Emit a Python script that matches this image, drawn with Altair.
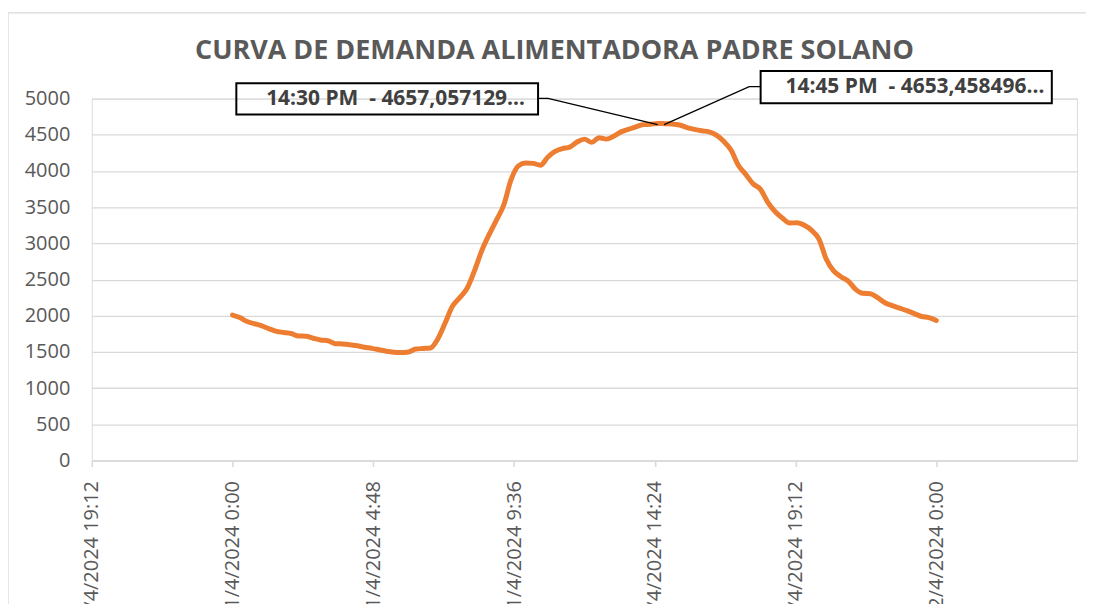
import altair as alt
import pandas as pd

TITLE = "CURVA DE DEMANDA ALIMENTADORA PADRE SOLANO"

# Demand (kW) every 15 minutes on 1/4/2024, from 0:00 to 24:00
demand_kw = [
    2010, 1975, 1920, 1890, 1860, 1820, 1785, 1770,   # 0:00 - 1:45
    1755, 1720, 1718, 1690, 1665, 1655, 1615, 1610,   # 2:00 - 3:45
    1600, 1585, 1565, 1550, 1530, 1510, 1497, 1492,   # 4:00 - 5:45
    1500, 1540, 1548, 1555, 1680, 1900, 2130, 2250,   # 6:00 - 7:45
    2380, 2620, 2900, 3120, 3320, 3530, 3880, 4070,   # 8:00 - 9:45
    4110, 4105, 4080, 4190, 4270, 4310, 4330, 4400,   # 10:00 - 11:45
    4440, 4395, 4460, 4440, 4480, 4540, 4575, 4610,   # 12:00 - 13:45
    4640, 4645, 4657.057129, 4653.458496, 4650, 4635, 4600, 4575,  # 14:00 - 15:45
    4555, 4540, 4495, 4410, 4290, 4080, 3955, 3824,   # 16:00 - 17:45
    3750, 3570, 3440, 3350, 3281, 3285, 3250, 3180,   # 18:00 - 19:45
    3060, 2780, 2620, 2540, 2480, 2365, 2310, 2305,   # 20:00 - 21:45
    2250, 2180, 2140, 2105, 2070, 2030, 1990, 1975,   # 22:00 - 23:45
    1935,                                             # 24:00
]
start = "2024-04-01 00:00"

tick_labels = [
    "31/4/2024 19:12", "1/4/2024 0:00", "1/4/2024 4:48", "1/4/2024 9:36",
    "1/4/2024 14:24", "1/4/2024 19:12", "2/4/2024 0:00",
]
# the double space is kept visible with a non-breaking space
callout_texts = ["14:30 PM\u00a0 - 4657,057129…", "14:45 PM\u00a0 - 4653,458496…"]

times = pd.date_range(start, periods=len(demand_kw), freq="15min")
df = pd.DataFrame({"t": times.strftime("%Y-%m-%dT%H:%M:%S"), "v": demand_kw})

base_day = pd.Timestamp("2024-04-01")


def ts(h):
    return (base_day + pd.Timedelta(hours=h)).strftime("%Y-%m-%dT%H:%M:%S")


# Callout geometry (data coordinates: hours on 1/4, value)
boxes = pd.DataFrame({
    "t0": [ts(0.13), ts(18.01)],
    "t1": [ts(10.42), ts(27.94)],
    "v0": [4780, 4935],
    "v1": [5211, 5380],
    "fill": ["transparent", "white"],
})
texts = pd.DataFrame({
    "t": [ts(5.56), ts(23.27)],
    "v": [4994, 5158],
    "label": callout_texts,
})
leaders = pd.DataFrame({
    "g": [0, 0, 0, 1, 1, 1],
    "o": [0, 1, 2, 0, 1, 2],
    "t": [ts(10.42), ts(10.76), ts(14.5), ts(14.72), ts(17.62), ts(18.01)],
    "v": [5004, 5004, 4640, 4640, 5165, 5165],
})

tick_vals = [
    alt.DateTime(year=2024, month=3, date=31, hours=19, minutes=12),
    alt.DateTime(year=2024, month=4, date=1, hours=0, minutes=0),
    alt.DateTime(year=2024, month=4, date=1, hours=4, minutes=48),
    alt.DateTime(year=2024, month=4, date=1, hours=9, minutes=36),
    alt.DateTime(year=2024, month=4, date=1, hours=14, minutes=24),
    alt.DateTime(year=2024, month=4, date=1, hours=19, minutes=12),
    alt.DateTime(year=2024, month=4, date=2, hours=0, minutes=0),
]
label_list = "[" + ",".join("'" + s + "'" for s in tick_labels) + "]"
label_expr = (label_list + "[round((datum.value - datetime(2024, 2, 31, 19, 12)) / 17280000)]")

x_scale = alt.Scale(domain=[
    alt.DateTime(year=2024, month=3, date=31, hours=19, minutes=12),
    alt.DateTime(year=2024, month=4, date=2, hours=4, minutes=48),
])
y_scale = alt.Scale(domain=[0, 5000], nice=False, zero=True)

FONT = "Open Sans"
GRAY = "#595959"

x_axis = alt.Axis(
    values=tick_vals, labelExpr=label_expr, labelAngle=270, labelFontSize=20,
    labelColor=GRAY, labelFont=FONT, domainColor="#D9D9D9", domainWidth=1.5,
    tickColor="#D9D9D9", tickSize=6, tickWidth=1.5, grid=False, title=None,
    labelPadding=14, labelOverlap=False, labelFlush=False,
)
y_axis = alt.Axis(
    values=list(range(0, 5001, 500)), format="d", labelFontSize=20, labelColor=GRAY,
    labelFont=FONT, domain=False, ticks=False, labelPadding=22, labelOverlap=False,
    gridColor="#D9D9D9", gridWidth=1.3, title=None, tickCount=11,
)


def X(field):
    return alt.X(field, type="temporal", scale=x_scale, axis=x_axis)


def Y(field):
    return alt.Y(field, type="quantitative", scale=y_scale, axis=y_axis)


frame = alt.Chart(pd.DataFrame({"a": [0]})).mark_rect(
    fill="transparent", stroke="#D9D9D9", strokeWidth=1.3
).encode(x=alt.value(-84), x2=alt.value(1200), y=alt.value(-86), y2=alt.value(800))

line = alt.Chart(df).mark_line(
    color="#ED7D31", strokeWidth=5, interpolate="monotone", strokeCap="round"
).encode(x=X("t"), y=Y("v"))

leader_lines = alt.Chart(leaders).mark_line(color="black", strokeWidth=1.3).encode(
    x=X("t"), y=Y("v"), detail="g:N", order="o:Q"
)

box_marks = alt.Chart(boxes).mark_rect(stroke="black", strokeWidth=2).encode(
    x=X("t0"), x2="t1", y=Y("v0"), y2="v1", fill=alt.Fill("fill:N", scale=None)
)

text_marks = alt.Chart(texts).mark_text(
    font=FONT, fontSize=21, fontWeight="bold", color="#404040"
).encode(x=X("t"), y=Y("v"), text="label:N")

chart = alt.layer(frame, line, leader_lines, box_marks, text_marks).properties(
    width=988, height=363,
    title=alt.Title(TITLE, font=FONT, fontSize=27, fontWeight="bold", color=GRAY,
                    anchor="middle", dx=-30, offset=-74, baseline="alphabetic"),
    autosize=alt.AutoSizeParams(type="none"),
    padding={"left": 84, "top": 90, "right": 9, "bottom": 143},
).configure_view(stroke=None).configure(background="white")

chart.save("out.html", embed_options={"renderer": "svg", "actions": False})
